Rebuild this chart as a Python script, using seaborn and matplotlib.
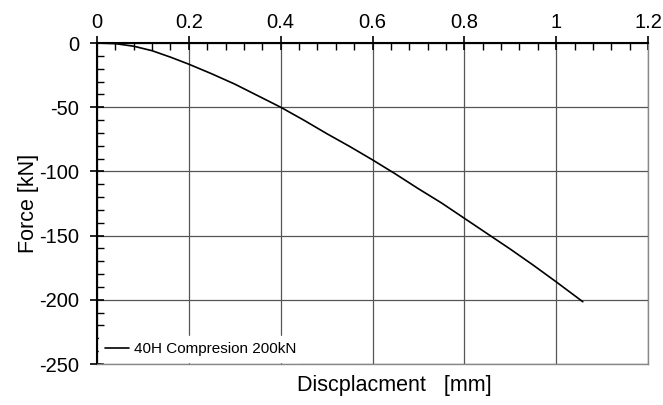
import numpy as np
import pandas as pd
import matplotlib
matplotlib.use("Agg")
import matplotlib.pyplot as plt
from matplotlib.ticker import MultipleLocator
import seaborn as sns

# displacement [mm] and force [kN]
displacement = [0.0, 0.04, 0.08, 0.12, 0.16, 0.20, 0.25, 0.30, 0.35, 0.40, 0.45,
                0.50, 0.55, 0.60, 0.65, 0.70, 0.75, 0.80, 0.85, 0.90, 0.95, 1.00, 1.058]
force = [0.0, -0.5, -2.5, -6.0, -11.0, -16.5, -24.0, -32.0, -41.0, -50.0, -60.0,
         -70.5, -80.5, -91.0, -102.0, -113.5, -124.5, -136.5, -148.5, -160.5, -173.0,
         -186.0, -201.5]
series_name = "40H Compresion 200kN"

df = pd.DataFrame({"Displacement": displacement, "Force": force})

sns.set_style("white")
plt.rcParams["font.family"] = ["Liberation Sans", "DejaVu Sans"]
plt.rcParams["axes.unicode_minus"] = False
plt.rcParams["text.color"] = "black"
plt.rcParams["axes.labelcolor"] = "black"

fig = plt.figure(figsize=(6.63, 4.05), dpi=100)
ax = fig.add_axes([0.1463, 0.1012, 0.9774 - 0.1463, 0.8938 - 0.1012])

sns.lineplot(data=df, x="Displacement", y="Force", color="black", linewidth=1.2,
             label=series_name, ax=ax, zorder=3)

ax.set_xlim(0, 1.2)
ax.set_ylim(-250, 0)
ax.xaxis.set_major_locator(MultipleLocator(0.2))
ax.xaxis.set_minor_locator(MultipleLocator(0.04))
ax.yaxis.set_major_locator(MultipleLocator(50))
ax.yaxis.set_minor_locator(MultipleLocator(10))
ax.set_xticks([0, 0.2, 0.4, 0.6, 0.8, 1.0, 1.2])
ax.set_xticklabels(["0", "0.2", "0.4", "0.6", "0.8", "1", "1.2"])

# x axis drawn along the top (force = 0)
ax.xaxis.tick_top()
ax.tick_params(axis="x", which="both", top=True, bottom=False, colors="black")
ax.tick_params(axis="y", which="both", left=True, right=False, colors="black")
ax.tick_params(axis="x", which="major", direction="inout", length=10, width=1.2,
               labelsize=14.5, pad=3)
ax.tick_params(axis="x", which="minor", direction="in", length=5, width=1)
ax.tick_params(axis="y", which="major", direction="inout", length=10, width=1.2,
               labelsize=14.5, pad=8)
ax.tick_params(axis="y", which="minor", direction="in", length=5, width=1)

ax.grid(True, which="major", color="#555555", linewidth=0.9)
for side in ["top", "left"]:
    ax.spines[side].set_color("black")
    ax.spines[side].set_linewidth(1.5)
for side in ["bottom", "right"]:
    ax.spines[side].set_color("#888888")
    ax.spines[side].set_linewidth(1.0)

ax.set_xlabel("Discplacment   [mm]", fontsize=15.5)
ax.xaxis.set_label_position("bottom")
ax.xaxis.set_label_coords(0.54, -0.035)
ax.xaxis.label.set_va("top")
ax.set_ylabel("Force [kN]", fontsize=15.5)
ax.yaxis.set_label_coords(-0.105, 0.5)

leg = ax.legend(loc="lower left", frameon=True, fontsize=11, handlelength=1.6,
                handletextpad=0.3, borderaxespad=0.1, borderpad=0.4)
leg.get_frame().set_facecolor("white")
leg.get_frame().set_edgecolor("white")
leg.get_frame().set_alpha(1)
leg.set_zorder(5)
for t in leg.get_texts():
    t.set_color("black")

fig.savefig("out.png", dpi=100)
